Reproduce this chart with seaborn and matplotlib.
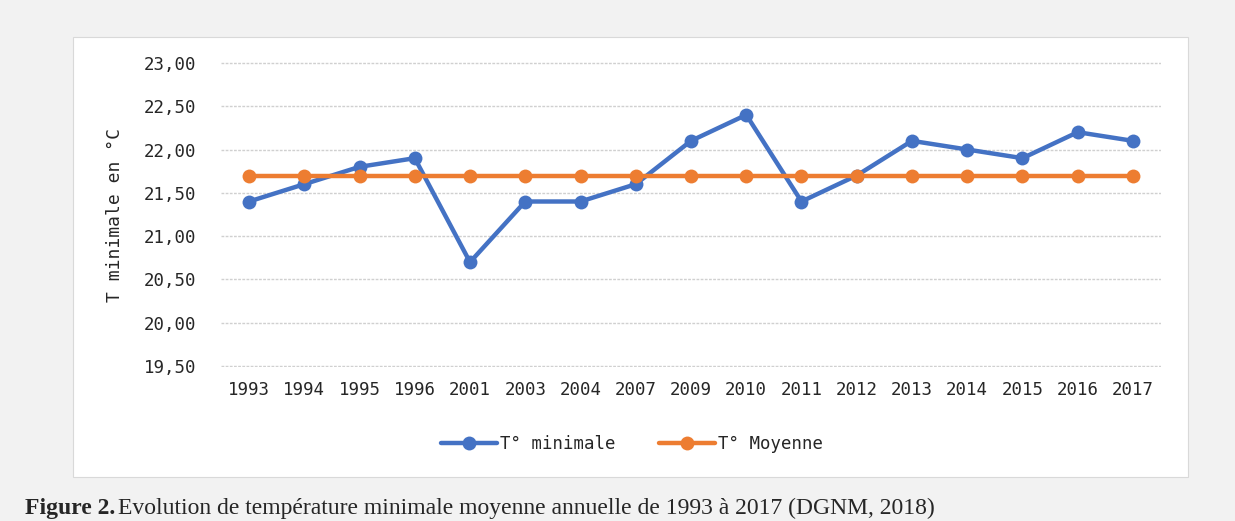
import numpy as np
import pandas as pd
import seaborn as sns
import matplotlib.pyplot as plt
from matplotlib.patches import Rectangle

years = ['1993', '1994', '1995', '1996', '2001', '2003', '2004', '2007', '2009',
         '2010', '2011', '2012', '2013', '2014', '2015', '2016', '2017']
t_min = [21.4, 21.6, 21.8, 21.9, 20.7, 21.4, 21.4, 21.6, 22.1,
         22.4, 21.4, 21.7, 22.1, 22.0, 21.9, 22.2, 22.1]
t_moy = [21.7] * len(years)
yticks = [19.5, 20.0, 20.5, 21.0, 21.5, 22.0, 22.5, 23.0]

df = pd.DataFrame({'pos': np.arange(len(years)), 'year': years,
                   'T° minimale': t_min, 'T° Moyenne': t_moy})
long = df.melt(id_vars=['pos', 'year'], var_name='serie', value_name='temp')

sns.set_style('white')
plt.rcParams['font.family'] = ['DejaVu Sans Mono', 'DejaVu Sans']

fig = plt.figure(figsize=(12.35, 5.21), dpi=100)
fig.patch.set_facecolor('#f2f2f2')

# white chart box behind the axes
fig.patches.append(Rectangle((73 / 1235, 44 / 521), 1115 / 1235, 440 / 521,
                             transform=fig.transFigure, facecolor='white',
                             edgecolor='#d9d9d9', linewidth=0.8, zorder=-5))

ax = fig.add_axes([221.4 / 1235, 154 / 521, 939.2 / 1235, 305 / 521])
ax.set_facecolor('none')

palette = {'T° minimale': '#4472C4', 'T° Moyenne': '#ED7D31'}
sns.lineplot(data=long, x='pos', y='temp', hue='serie', palette=palette,
             marker='o', markersize=10, markeredgewidth=0, linewidth=3.2,
             ax=ax, legend=False)

ax.set_xlim(-0.5, len(years) - 0.5)
ax.set_ylim(19.49, 23.01)
ax.set_xticks(df['pos'])
ax.set_xticklabels(years, fontsize=12.5)
ax.set_yticks(yticks)
ax.set_yticklabels([f'{v:.2f}'.replace('.', ',') for v in yticks], fontsize=12.5)
ax.tick_params(axis='both', length=0, pad=10)
ax.tick_params(axis='y', pad=18)
ax.grid(axis='y', color='#d0d0d0', linewidth=1, linestyle=(0, (2, 1)))
ax.set_axisbelow(True)
for s in ax.spines.values():
    s.set_visible(False)
ax.set_xlabel('')
ax.set_ylabel('T minimale en °C', fontsize=13, labelpad=14)

handles = [plt.Line2D([], [], color=palette[k], marker='o', markersize=10,
                      linewidth=3.2, markeredgewidth=0) for k in palette]
fig.legend(handles, list(palette), loc='center', ncol=2,
           bbox_to_anchor=(632 / 1235, 1 - 444 / 521), frameon=False,
           fontsize=12.5, handlelength=3.2, columnspacing=2.5, handletextpad=0.2)

fig.text(25 / 1235, 2 / 521, 'Figure 2.', fontsize=17, fontweight='bold',
         family='Liberation Serif', va='bottom', ha='left')
fig.text(118 / 1235, 2 / 521,
         'Evolution de température minimale moyenne annuelle de 1993 à 2017 (DGNM, 2018)',
         fontsize=17, family='Liberation Serif', va='bottom', ha='left')

fig.savefig('out.png', dpi=100, facecolor=fig.get_facecolor())
